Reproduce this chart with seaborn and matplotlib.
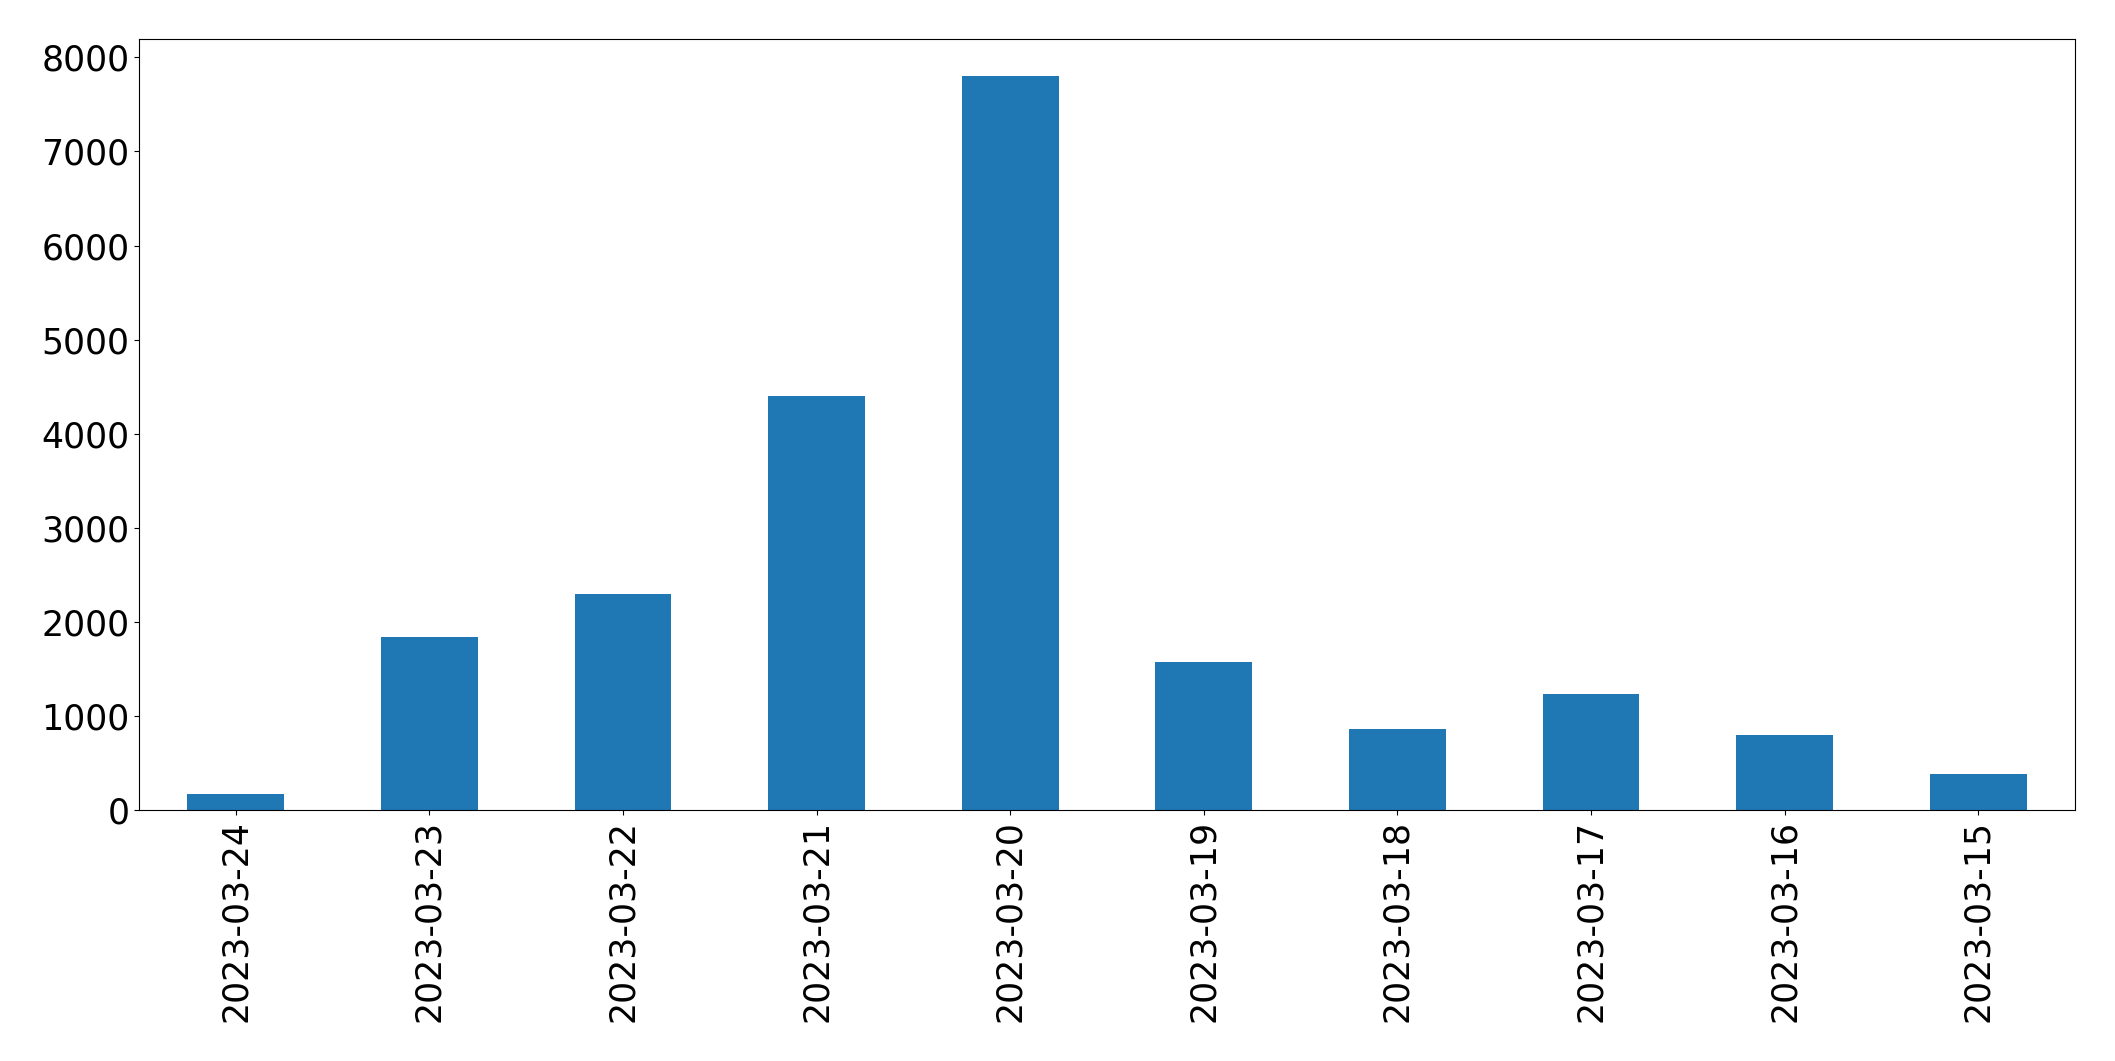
import matplotlib
matplotlib.use("Agg")
import matplotlib.pyplot as plt
import seaborn as sns
import pandas as pd

dates = ["2023-03-24", "2023-03-23", "2023-03-22", "2023-03-21", "2023-03-20",
         "2023-03-19", "2023-03-18", "2023-03-17", "2023-03-16", "2023-03-15"]
counts = [172, 1835, 2293, 4400, 7805, 1578, 856, 1235, 801, 386]

df = pd.DataFrame({"date": dates, "count": counts})

plt.rcParams['font.family'] = ['DejaVu Sans']
fig = plt.figure(figsize=(21.15, 10.61), dpi=100)
ax = fig.add_axes([139/2115, 1 - 810/1061, (2075-139)/2115, (810-39)/1061])
sns.barplot(data=df, x="date", y="count", order=dates, color="#1f77b4",
            saturation=1, width=0.5, ax=ax)
ax.set_xlim(-0.5, len(dates) - 0.5)
ax.set_xlabel("")
ax.set_ylabel("")
ax.set_yticks([0, 1000, 2000, 3000, 4000, 5000, 6000, 7000, 8000])
ax.tick_params(axis="both", labelsize=25)
ax.tick_params(axis="x", labelrotation=90)
fig.savefig("out.png", dpi=100)
